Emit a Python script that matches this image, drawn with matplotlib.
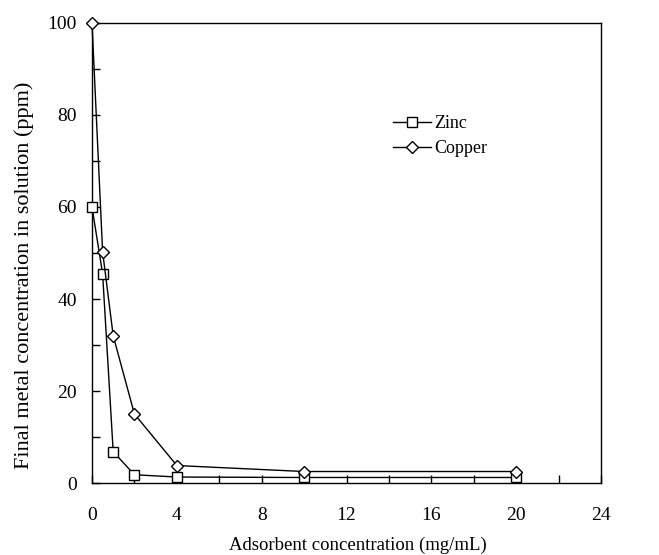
import numpy as np
import matplotlib
matplotlib.use("Agg")
import matplotlib.pyplot as plt
from matplotlib.ticker import MultipleLocator

# data
adsorbent = [0, 0.5, 1, 2, 4, 10, 20]
zinc = [60, 45.5, 6.8, 1.8, 1.3, 1.2, 1.2]
copper = [100, 50.3, 32, 15, 3.8, 2.5, 2.5]

plt.rcParams['font.family'] = ['Liberation Serif', 'DejaVu Serif']

fig = plt.figure(figsize=(6.59, 5.55), dpi=100)
ax = fig.add_axes([0.1396, 0.1297, 0.7724, 0.8289])

ax.plot(adsorbent, zinc, color='black', lw=1.0, marker='s', ms=7,
        mfc='white', mec='black', mew=1.0, label='Zinc', clip_on=False, zorder=3)
ax.plot(adsorbent, copper, color='black', lw=1.0, marker='D', ms=6,
        mfc='white', mec='black', mew=1.0, label='Copper', clip_on=False, zorder=3)

ax.set_xlim(0, 24)
ax.set_ylim(0, 100)
ax.xaxis.set_major_locator(MultipleLocator(4))
ax.xaxis.set_minor_locator(MultipleLocator(2))
ax.yaxis.set_major_locator(MultipleLocator(20))
ax.yaxis.set_minor_locator(MultipleLocator(10))
ax.tick_params(which='both', direction='in', top=False, right=False,
               labelsize=14, width=1.0, length=6)
ax.tick_params(axis='x', which='major', pad=17)
ax.tick_params(axis='y', which='major', pad=11)
for s in ax.spines.values():
    s.set_linewidth(1.0)

ax.set_xlabel('Adsorbent concentration (mg/mL)', fontsize=13.5, va='center')
ax.xaxis.set_label_coords(0.522, -0.135)
ax.set_ylabel('Final metal concentration in solution (ppm)', fontsize=16, va='center')
ax.yaxis.set_label_coords(-0.134, 0.452)

ax.legend(loc='upper left', bbox_to_anchor=(0.559, 0.835), frameon=False,
          fontsize=13, handlelength=2.1, handletextpad=0.2, labelspacing=0.45)

fig.savefig('out.png', dpi=100)
